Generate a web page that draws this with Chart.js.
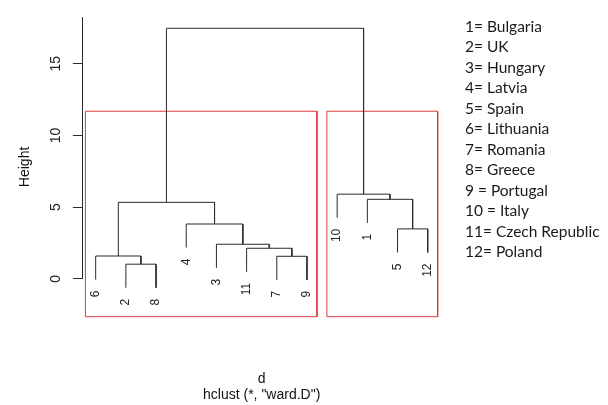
<!DOCTYPE html>
<html>
<head>
<meta charset="utf-8">
<script src="https://cdn.jsdelivr.net/npm/chart.js@4/dist/chart.umd.min.js"></script>
<style>
  html, body { margin: 0; padding: 0; background: #fff; }
  #wrap { position: relative; width: 608px; height: 405px; }
</style>
</head>
<body>
<div id="wrap"><canvas id="chart"></canvas></div>
<script>
// leaf order left to right (observation ids)
const leafOrder = [6, 2, 8, 4, 3, 11, 7, 9, 10, 1, 5, 12];
// hclust merge steps: negative = observation, positive = earlier step
const mergeLeft   = [-2, -7, -6, -11, -3, -5, -4, 3, -1, -10, 8];
const mergeRight  = [-8, -9, 1, 2, 4, -12, 5, 7, 6, 9, 10];
const mergeHeight = [1.03, 1.58, 1.60, 2.14, 2.42, 3.49, 3.83, 5.34, 5.55, 5.91, 17.47];
const countryNames = [
  '1= Bulgaria', '2= UK', '3= Hungary', '4= Latvia', '5= Spain', '6= Lithuania',
  '7= Romania', '8= Greece', '9 = Portugal', '10 = Italy', '11= Czech Republic', '12= Poland'
];
const yTicks = [0, 5, 10, 15];
const yLimits = [-2.63, 18.25];
const xTitle = ['d', 'hclust (*, "ward.D")'];

const INK = '#2a2a2a';
const RED = '#dd3b3b';

// ---- build dendrogram segments from the merge table ----
const hang = 0.1 * (Math.max(...mergeHeight) - Math.min(...mergeHeight));
const leafPos = {};
leafOrder.forEach((id, i) => { leafPos[id] = i + 1; });
const nodeX = [];
const nodeLeaves = [];
const leafEnd = {};
const datasets = [];

function child(c, h) {
  if (c < 0) {
    leafEnd[-c] = h - hang;
    return { x: leafPos[-c], y: h - hang, leaves: [-c] };
  }
  return { x: nodeX[c - 1], y: mergeHeight[c - 1], leaves: nodeLeaves[c - 1] };
}

mergeHeight.forEach((h, i) => {
  const l = child(mergeLeft[i], h);
  const r = child(mergeRight[i], h);
  nodeX[i] = (l.x + r.x) / 2;
  nodeLeaves[i] = l.leaves.concat(r.leaves);
  datasets.push({
    data: [{ x: l.x, y: l.y }, { x: l.x, y: h }, { x: r.x, y: h }, { x: r.x, y: r.y }],
    borderColor: INK, borderWidth: 1, showLine: true, pointRadius: 0, tension: 0
  });
});

// rect.hclust(k = 2)
const last = mergeHeight.length - 1;
const cutH = (mergeHeight[last] + mergeHeight[last - 1]) / 2;
[mergeLeft[last], mergeRight[last]].forEach(c => {
  const leaves = c < 0 ? [-c] : nodeLeaves[c - 1];
  const pos = leaves.map(id => leafPos[id]);
  const x0 = Math.min(...pos) - 0.34, x1 = Math.max(...pos) + 0.33;
  datasets.push({
    data: [{ x: x0, y: yLimits[0] }, { x: x0, y: cutH }, { x: x1, y: cutH }, { x: x1, y: yLimits[0] }, { x: x0, y: yLimits[0] }],
    borderColor: RED, borderWidth: 1, showLine: true, pointRadius: 0, tension: 0, clip: false
  });
});

const extras = {
  id: 'extras',
  afterDraw(chart) {
    const { ctx, chartArea, scales: { x, y } } = chart;
    ctx.save();
    // y axis line from 0 to top
    ctx.strokeStyle = INK;
    ctx.lineWidth = 1;
    ctx.beginPath();
    ctx.moveTo(Math.round(chartArea.left) + 0.5, y.getPixelForValue(yTicks[0]));
    ctx.lineTo(Math.round(chartArea.left) + 0.5, chartArea.top);
    ctx.stroke();

    // leaf labels
    ctx.fillStyle = '#222';
    ctx.font = '12px "Liberation Sans", Arial, sans-serif';
    ctx.textAlign = 'right';
    ctx.textBaseline = 'middle';
    leafOrder.forEach(id => {
      const px = x.getPixelForValue(leafPos[id]);
      const py = y.getPixelForValue(leafEnd[id]) + 11;
      ctx.save();
      ctx.translate(px, py);
      ctx.rotate(-Math.PI / 2);
      ctx.fillText(String(id), 0, 0);
      ctx.restore();
    });

    // country key
    ctx.fillStyle = '#1a1a1a';
    ctx.font = '15.5px Lato, "Open Sans", sans-serif';
    ctx.textAlign = 'left';
    ctx.textBaseline = 'middle';
    countryNames.forEach((t, i) => {
      ctx.fillText(t, 465, 27 + i * 20.45);
    });
    ctx.restore();
  }
};

new Chart(document.getElementById('chart'), {
  type: 'scatter',
  data: { datasets },
  options: {
    responsive: true,
    maintainAspectRatio: false,
    animation: false,
    layout: { padding: { top: 12, right: 167, left: 0, bottom: 0 } },
    plugins: { legend: { display: false }, tooltip: { enabled: false } },
    scales: {
      x: {
        type: 'linear',
        min: 1 - 0.04 * (leafOrder.length - 1),
        max: leafOrder.length + 0.04 * (leafOrder.length - 1),
        grid: { display: false },
        border: { display: false },
        ticks: { display: false },
        title: {
          display: true,
          text: xTitle,
          color: '#111',
          font: { family: '"Liberation Sans", Arial, sans-serif', size: 14, lineHeight: 1.12 },
          padding: { top: 0, bottom: 2 }
        },
        afterFit(scale) { scale.height = 88.3; }
      },
      y: {
        type: 'linear',
        min: yLimits[0],
        max: yLimits[1],
        afterBuildTicks(scale) { scale.ticks = yTicks.map(v => ({ value: v })); },
        grid: { display: true, drawOnChartArea: false, drawTicks: true, tickLength: 9.5, color: INK, lineWidth: 1 },
        border: { display: false },
        ticks: {
          minRotation: 90,
          maxRotation: 90,
          crossAlign: 'center',
          padding: 8.7,
          color: '#222',
          font: { family: '"Liberation Sans", Arial, sans-serif', size: 14 }
        },
        title: {
          display: true,
          text: 'Height',
          color: '#111',
          font: { family: '"Liberation Sans", Arial, sans-serif', size: 14 },
          padding: { top: 16.6, bottom: 0 }
        },
        afterFit(scale) { scale.width = 82.4; }
      }
    }
  },
  plugins: [extras]
});
</script>
</body>
</html>
